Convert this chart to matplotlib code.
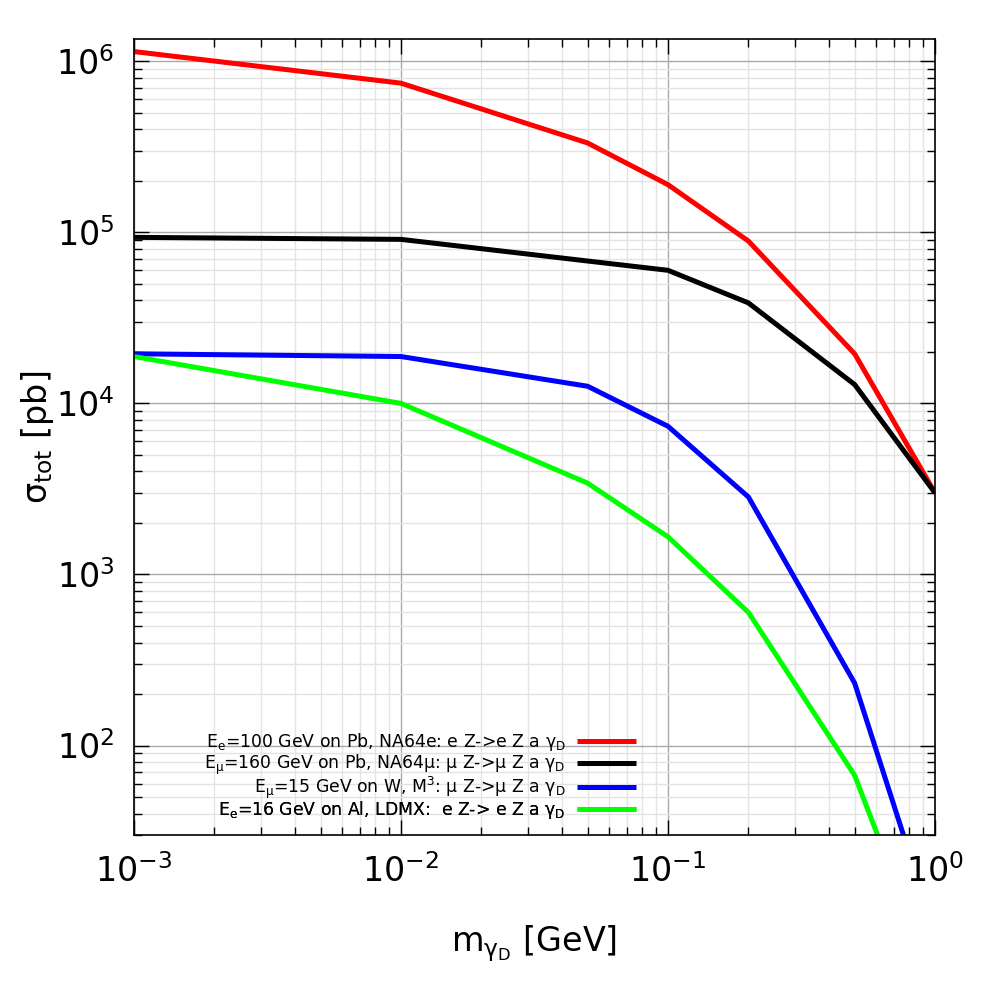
import matplotlib
matplotlib.use("Agg")
import matplotlib.pyplot as plt
from matplotlib.ticker import LogLocator, NullFormatter

plt.rcParams["axes.unicode_minus"] = False

mass = [0.001, 0.01, 0.05, 0.1, 0.2, 0.5, 1.0]
na64e = [1.14e6, 7.45e5, 3.33e5, 1.9e5, 8.9e4, 1.95e4, 3.0e3]
na64mu = [9.35e4, 9.1e4, 6.8e4, 6.0e4, 3.87e4, 1.29e4, 3.0e3]
m3 = [1.95e4, 1.88e4, 1.26e4, 7.35e3, 2.84e3, 232, 8]
ldmx = [1.88e4, 1.0e4, 3.42e3, 1.66e3, 601, 67, 4]

labels = [
    r"E$_\mathregular{e}$=100 GeV on Pb, NA64e: e Z->e Z a γ$_\mathregular{D}$",
    r"E$_\mathregular{μ}$=160 GeV on Pb, NA64μ: μ Z->μ Z a γ$_\mathregular{D}$",
    r"E$_\mathregular{μ}$=15 GeV on W, M$^\mathregular{3}$: μ Z->μ Z a γ$_\mathregular{D}$",
    r"E$_\mathregular{e}$=16 GeV on Al, LDMX:  e Z-> e Z a γ$_\mathregular{D}$",
]
colors = ["#ff0000", "#000000", "#0000ff", "#00ff00"]
series = [na64e, na64mu, m3, ldmx]
legend_rows_y = [0.1168, 0.0880, 0.0591, 0.0314]

fig = plt.figure(figsize=(10, 10), dpi=100)
ax = fig.add_axes([0.134, 0.165, 0.801, 0.796])

lines = []
for ys, c, lab in zip(series, colors, labels):
    ln, = ax.plot(mass, ys, color=c, lw=3.6, label=lab, solid_capstyle="butt")
    lines.append(ln)

ax.set_xscale("log")
ax.set_yscale("log")
ax.set_xlim(1e-3, 1.0)
ax.set_ylim(30, 1.35e6)

ax.xaxis.set_major_locator(LogLocator(base=10, numticks=10))
ax.xaxis.set_minor_locator(LogLocator(base=10, subs=range(2, 10), numticks=20))
ax.yaxis.set_major_locator(LogLocator(base=10, numticks=10))
ax.yaxis.set_minor_locator(LogLocator(base=10, subs=range(2, 10), numticks=20))
ax.xaxis.set_minor_formatter(NullFormatter())
ax.yaxis.set_minor_formatter(NullFormatter())

ax.grid(True, which="major", color="#aaaaaa", lw=1.0)
ax.grid(True, which="minor", color="#e3e3e3", lw=1.0)
ax.set_axisbelow(True)

ax.tick_params(which="both", direction="in", top=True, right=True, width=1.0)
ax.tick_params(which="major", length=11, labelsize=24)
ax.tick_params(which="minor", length=6)
ax.tick_params(axis="x", which="major", pad=14)
ax.tick_params(axis="y", which="major", pad=14)
for s in ax.spines.values():
    s.set_linewidth(1.2)

ax.set_xlabel(r"m$_{\mathregular{γ_D}}$ [GeV]", fontsize=24)
ax.xaxis.set_label_coords(0.5, -0.111)
ax.set_ylabel(r"σ$_\mathregular{tot}$ [pb]", fontsize=24)
ax.yaxis.set_label_coords(-0.097, 0.5)

for ln, lab, yy in zip(lines, labels, legend_rows_y):
    lg = ax.legend([ln], [lab], loc="center right", bbox_to_anchor=(0.627, yy),
                   frameon=False, fontsize=12.4, markerfirst=False, handlelength=3.45,
                   handletextpad=0.65, borderpad=0, borderaxespad=0)
    ax.add_artist(lg)

fig.savefig("out.png", dpi=100)
